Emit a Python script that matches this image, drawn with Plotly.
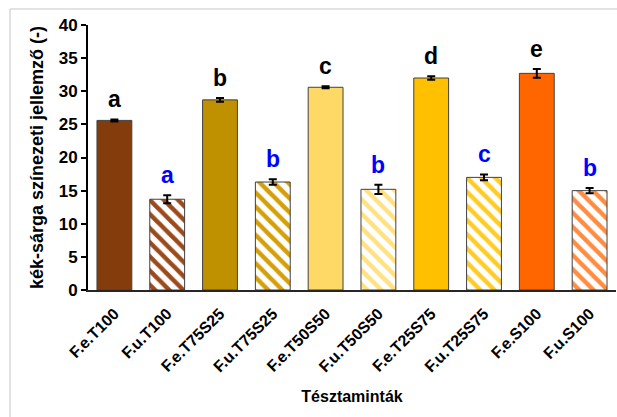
import plotly.graph_objects as go

categories = ["F.e.T100", "F.u.T100", "F.e.T75S25", "F.u.T75S25", "F.e.T50S50",
              "F.u.T50S50", "F.e.T25S75", "F.u.T25S75", "F.e.S100", "F.u.S100"]
values = [25.6, 13.7, 28.7, 16.3, 30.6, 15.2, 32.0, 17.0, 32.7, 15.0]
errors = [0.15, 0.6, 0.3, 0.4, 0.15, 0.7, 0.25, 0.45, 0.65, 0.4]
letters = ["a", "a", "b", "b", "c", "b", "d", "c", "e", "b"]
letter_colors = ["#000000", "#0000FF"] * 5
colors = ["#843C0C", "#9C4A1C", "#BF9000", "#D4A00A", "#FFD966",
          "#FFE180", "#FFC000", "#FFCC26", "#FF6600", "#FF8C40"]
hatched = [False, True] * 5

FONT = "Arial, Liberation Sans, sans-serif"

solid_idx = [i for i, h in enumerate(hatched) if not h]
hatch_idx = [i for i, h in enumerate(hatched) if h]

fig = go.Figure()
fig.add_trace(go.Bar(
    x=[categories[i] for i in solid_idx], y=[values[i] for i in solid_idx],
    width=0.66,
    marker=dict(color=[colors[i] for i in solid_idx], opacity=1,
                line=dict(color="#404040", width=1)),
    error_y=dict(type="data", array=[errors[i] for i in solid_idx], visible=True,
                 color="#000000", thickness=2, width=4),
    showlegend=False,
))
for i in hatch_idx:
    fig.add_trace(go.Bar(
        x=[categories[i]], y=[values[i]],
        width=0.66,
        marker=dict(color="#FFFFFF", opacity=1,
                    line=dict(color="#404040", width=1),
                    pattern=dict(shape="\\", fgcolor=colors[i], bgcolor="#FFFFFF",
                                 fgopacity=1, size=10, solidity=0.45)),
        error_y=dict(type="data", array=[errors[i]], visible=True,
                     color="#000000", thickness=2, width=4),
        showlegend=False,
    ))

for c, v, e, t, col in zip(categories, values, errors, letters, letter_colors):
    fig.add_annotation(x=c, y=v + e, text=f"<b>{t}</b>", showarrow=False,
                       yanchor="bottom", yshift=5,
                       font=dict(family=FONT, size=23, color=col))

fig.add_shape(type="line", xref="paper", yref="paper",
              x0=(10 - 88) / 528, x1=1.2, y0=1 + 16 / 265, y1=1 + 16 / 265,
              line=dict(color="#D9D9D9", width=1.5))
fig.add_shape(type="line", xref="paper", yref="paper",
              x0=(10 - 88) / 528, x1=(10 - 88) / 528, y0=1 + 16 / 265, y1=-0.6,
              line=dict(color="#D9D9D9", width=1.5))

fig.update_layout(
    width=617, height=417,
    margin=dict(l=88, r=1, t=25, b=127),
    paper_bgcolor="white", plot_bgcolor="white",
    font=dict(family=FONT, color="#000000"),
    barmode="overlay",
    xaxis=dict(
        categoryorder="array", categoryarray=categories,
        tickangle=-45, tickfont=dict(family=FONT, size=16, color="#000000"),
        tickprefix="<b>", ticksuffix="</b>",
        showline=True, linecolor="#262626", linewidth=2,
        ticks="", showgrid=False, ticklabelstandoff=6,
        title=dict(text="<b>Tésztaminták</b>", font=dict(family=FONT, size=16),
                   standoff=16),
    ),
    yaxis=dict(
        range=[0, 40], dtick=5,
        tickfont=dict(family=FONT, size=17, color="#000000"),
        tickprefix="<b>", ticksuffix="</b>",
        showline=True, linecolor="#000000", linewidth=2,
        ticks="outside", ticklen=5, tickwidth=2, tickcolor="#000000",
        showgrid=False, zeroline=False,
        title=dict(text="<b>kék-sárga színezeti jellemző (-)</b>",
                   font=dict(family=FONT, size=18), standoff=10),
    ),
)

fig.write_html("out.html")
